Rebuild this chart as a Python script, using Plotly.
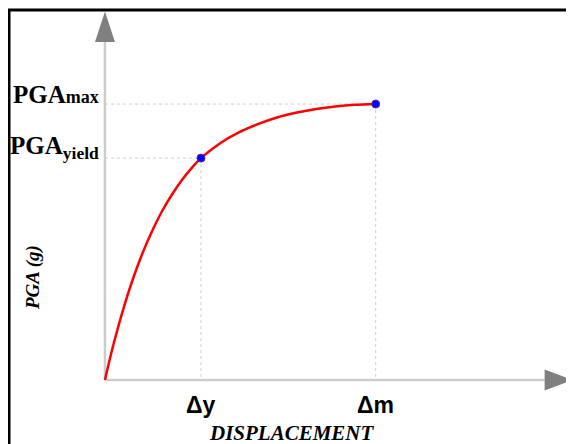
import plotly.graph_objects as go

# Capacity curve (displacement in units of yield displacement, PGA normalised to PGA_max)
disp = [0, 0.05, 0.10, 0.20, 0.30, 0.40, 0.50, 0.60, 0.70, 0.80, 0.90, 1.00, 1.20, 1.40, 1.60, 1.80, 2.00, 2.20, 2.40, 2.60, 2.82]
pga = [0, 0.075, 0.144, 0.268, 0.375, 0.467, 0.546, 0.615, 0.673, 0.724, 0.767, 0.804, 0.858, 0.898, 0.928, 0.952, 0.969, 0.982, 0.991, 0.997, 1.0]

key_disp = [1.00, 2.82]
key_pga = [0.804, 1.0]
x_tick_labels = ["Δy", "Δm"]
y_tick_labels = ["PGA<sub><span style=\"font-family:Liberation Serif\">yield</span></sub>",
                 "PGA<span style=\"font-family:Liberation Serif;font-size:18px\">max</span>"]

x_title = "DISPLACEMENT"
y_title = "PGA (g)"

# axis extents (data units)
x_axis_end = 4.58
y_axis_end = 1.225
x_range = [-1.010, 4.969]
y_range = [-0.261, 1.348]

GUIDE = "#cfcfcf"
AXIS = "#cccccc"
ARROW = "#808080"

fig = go.Figure()

# dotted guide lines
for xk, yk in zip(key_disp, key_pga):
    fig.add_trace(go.Scatter(x=[0, xk], y=[yk, yk], mode="lines",
                             line=dict(color=GUIDE, width=1, dash="dot"), hoverinfo="skip"))
    fig.add_trace(go.Scatter(x=[xk, xk], y=[yk, 0], mode="lines",
                             line=dict(color=GUIDE, width=1, dash="dot"), hoverinfo="skip"))

# axis lines
fig.add_trace(go.Scatter(x=[0, x_axis_end], y=[0, 0], mode="lines",
                         line=dict(color=AXIS, width=2.5), hoverinfo="skip"))
fig.add_trace(go.Scatter(x=[0, 0], y=[0, y_axis_end], mode="lines",
                         line=dict(color=AXIS, width=2.5), hoverinfo="skip"))

# arrowheads
x_tip = 4.875
y_tip = 1.335
fig.add_trace(go.Scatter(x=[x_axis_end, x_axis_end, x_tip, x_axis_end],
                         y=[-0.038, 0.038, 0, -0.038], mode="lines", fill="toself",
                         fillcolor=ARROW, line=dict(color=ARROW, width=0), hoverinfo="skip"))
fig.add_trace(go.Scatter(x=[-0.104, 0.104, 0, -0.104],
                         y=[y_axis_end, y_axis_end, y_tip, y_axis_end], mode="lines",
                         fill="toself", fillcolor=ARROW, line=dict(color=ARROW, width=0),
                         hoverinfo="skip"))

# curve
fig.add_trace(go.Scatter(x=disp, y=pga, mode="lines",
                         line=dict(color="#ff0000", width=2.5, shape="spline", smoothing=0.8),
                         hoverinfo="skip"))
# key points
fig.add_trace(go.Scatter(x=key_disp, y=key_pga, mode="markers",
                         marker=dict(color="#0000ff", size=8, line=dict(color="#5a2a9a", width=1)),
                         hoverinfo="skip"))

annotations = []
for i, (lbl, yk) in enumerate(zip(y_tick_labels, key_pga)):
    annotations.append(dict(x=0, y=yk, xref="x", yref="y", text="<b>" + lbl + "</b>",
                            showarrow=False, xanchor="right", yanchor="bottom",
                            xshift=-4, yshift=-7 if i == 0 else -6,
                            font=dict(family="Liberation Serif", size=25, color="black")))
for lbl, xk in zip(x_tick_labels, key_disp):
    annotations.append(dict(x=xk, y=0, xref="x", yref="y", text="<b>" + lbl + "</b>",
                            showarrow=False, xanchor="center", yanchor="top", yshift=-10,
                            font=dict(family="Liberation Sans", size=23, color="black")))
annotations.append(dict(x=1.95, y=0, xref="x", yref="y",
                        text="<b><i>" + x_title + "</i></b>", showarrow=False,
                        xanchor="center", yanchor="top", yshift=-39,
                        font=dict(family="Liberation Serif", size=21, color="black")))
annotations.append(dict(x=0, y=0.373, xref="x", yref="y", text="<b><i>" + y_title + "</i></b>",
                        showarrow=False, textangle=-90, xanchor="center", yanchor="middle",
                        xshift=-72,
                        font=dict(family="Liberation Serif", size=19, color="black")))

fig.update_layout(
    width=574, height=444,
    margin=dict(l=0, r=0, t=0, b=0),
    paper_bgcolor="white", plot_bgcolor="white",
    showlegend=False,
    xaxis=dict(range=x_range, visible=False, fixedrange=True),
    yaxis=dict(range=y_range, visible=False, fixedrange=True),
    annotations=annotations,
    shapes=[
        dict(type="line", xref="paper", yref="paper", x0=1 / 574, x1=1 / 574, y0=0, y1=1 - 2 / 444,
             line=dict(color="black", width=3)),
        dict(type="line", xref="paper", yref="paper", x0=0, x1=1, y0=1 - 2 / 444,
             y1=1 - 2 / 444, line=dict(color="black", width=3)),
    ],
)

fig.write_html("out.html")
